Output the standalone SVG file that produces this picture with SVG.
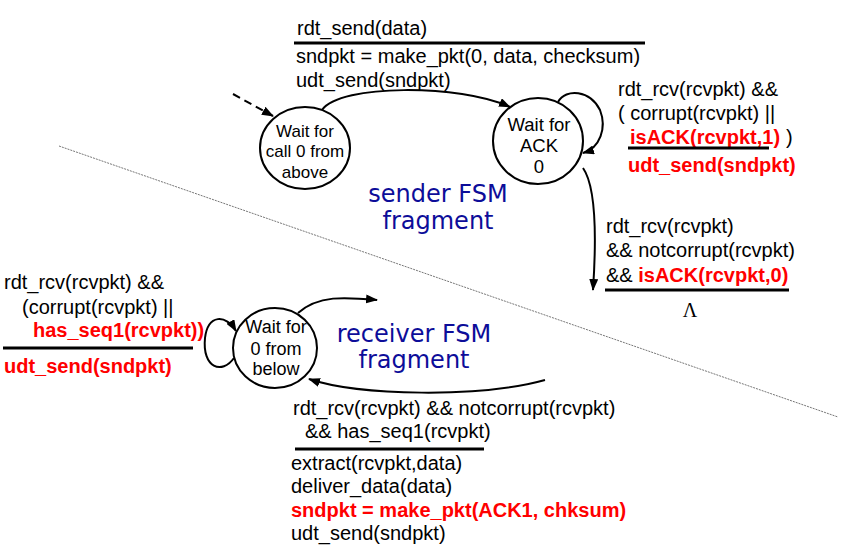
<svg xmlns="http://www.w3.org/2000/svg" width="862" height="556" viewBox="0 0 862 556">
<style>
.t{font-family:"Liberation Sans",Arial,sans-serif;font-size:20px;fill:#000}
.r{font-family:"Liberation Sans",Arial,sans-serif;font-size:20px;font-weight:bold;fill:#ff0000}
.n{font-family:"Liberation Sans",Arial,sans-serif;fill:#000;text-anchor:middle}
.b{font-family:"DejaVu Sans",sans-serif;font-size:24px;fill:#0d0d99;text-anchor:middle}
.st{fill:#fff;stroke:#000;stroke-width:2}
.c{fill:none;stroke:#000;stroke-width:2}
.u{stroke:#000;stroke-width:3}
</style>
<defs>
<marker id="ah" markerUnits="userSpaceOnUse" markerWidth="12" markerHeight="9" refX="11" refY="4.5" orient="auto">
<path d="M0,0 L12,4.5 L0,9 z" fill="#000"/>
</marker>
</defs>
<rect width="862" height="556" fill="#fff"/>
<line x1="59" y1="146" x2="838" y2="417" stroke="#777" stroke-width="1" stroke-dasharray="2,1"/>

<g id="connectors">
<path class="c" d="M233,94 L273,116" stroke-dasharray="8,5" marker-end="url(#ah)"/>
<path class="c" d="M322,110 C340,84 460,84 510,107" marker-end="url(#ah)"/>
<path class="c" d="M558,102 C566,88 590,90 600,110 C607,128 600,148 583,153" marker-end="url(#ah)"/>
<path class="c" d="M583,168 C595,185 597,230 593,290" marker-end="url(#ah)"/>
<path class="c" d="M298,313 C318,295 345,297 377,300" marker-end="url(#ah)"/>
<path class="c" d="M545,380 C480,398 360,396 309,379" marker-end="url(#ah)"/>
<path class="c" d="M234,358 C222,375 202,368 205,338 C208,314 226,314 236,331" marker-end="url(#ah)"/>
</g>

<g id="wait-call0">
<ellipse class="st" cx="305" cy="148" rx="45" ry="41"/>
<text class="n" font-size="17" x="305" y="137">Wait for</text>
<text class="n" font-size="17" x="305" y="157">call 0 from</text>
<text class="n" font-size="17" x="305" y="178">above</text>
</g>

<g id="wait-ack0">
<ellipse class="st" cx="538" cy="141" rx="45" ry="43"/>
<text class="n" font-size="18.5" x="539" y="131">Wait for</text>
<text class="n" font-size="18.5" x="539" y="152">ACK</text>
<text class="n" font-size="18.5" x="539" y="173">0</text>
</g>

<g id="wait-0-below">
<ellipse class="st" cx="275" cy="348" rx="42" ry="40"/>
<text class="n" font-size="18" x="276" y="333">Wait for</text>
<text class="n" font-size="18" x="276" y="355">0 from</text>
<text class="n" font-size="18" x="276" y="375">below</text>
</g>

<g id="label-send">
<text class="t" x="297" y="35">rdt_send(data)</text>
<line class="u" x1="294" y1="43" x2="645" y2="43"/>
<text class="t" x="296" y="63">sndpkt = make_pkt(0, data, checksum)</text>
<text class="t" x="296" y="87">udt_send(sndpkt)</text>
</g>

<g id="label-resend">
<text class="t" x="618" y="96">rdt_rcv(rcvpkt) &amp;&amp;</text>
<text class="t" x="618" y="120">( corrupt(rcvpkt) ||</text>
<text class="r" x="630" y="144">isACK(rcvpkt,1)</text>
<text class="t" x="786" y="144">)</text>
<line class="u" x1="628" y1="148" x2="769" y2="148"/>
<text class="r" x="628" y="172">udt_send(sndpkt)</text>
</g>

<g id="label-ack0">
<text class="t" x="606" y="233">rdt_rcv(rcvpkt)</text>
<text class="t" x="606" y="257">&amp;&amp; notcorrupt(rcvpkt)</text>
<text x="606" y="282"><tspan class="t">&amp;&amp; </tspan><tspan class="r">isACK(rcvpkt,0)</tspan></text>
<line class="u" x1="605" y1="290" x2="789" y2="290"/>
<text x="690" y="317" font-family="'Liberation Serif','Times New Roman',serif" font-size="20" text-anchor="middle">Λ</text>
</g>

<g id="label-fragments">
<text class="b" x="438" y="202">sender FSM</text>
<text class="b" x="438" y="229">fragment</text>
<text class="b" x="414" y="342">receiver FSM</text>
<text class="b" x="414" y="368">fragment</text>
</g>

<g id="label-rcv-dup">
<text class="t" x="4" y="289">rdt_rcv(rcvpkt) &amp;&amp;</text>
<text class="t" x="22" y="314">(corrupt(rcvpkt) ||</text>
<text class="r" x="33" y="337">has_seq1(rcvpkt))</text>
<line class="u" x1="3" y1="348" x2="193" y2="348"/>
<text class="r" x="4" y="373">udt_send(sndpkt)</text>
</g>

<g id="label-rcv-ok">
<text class="t" x="293" y="415">rdt_rcv(rcvpkt) &amp;&amp; notcorrupt(rcvpkt)</text>
<text class="t" x="305" y="438">&amp;&amp; has_seq1(rcvpkt)</text>
<line class="u" x1="295" y1="449" x2="484" y2="449"/>
<text class="t" x="291" y="470">extract(rcvpkt,data)</text>
<text class="t" x="291" y="493">deliver_data(data)</text>
<text class="r" x="291" y="517">sndpkt = make_pkt(ACK1, chksum)</text>
<text class="t" x="291" y="540">udt_send(sndpkt)</text>
</g>
</svg>
